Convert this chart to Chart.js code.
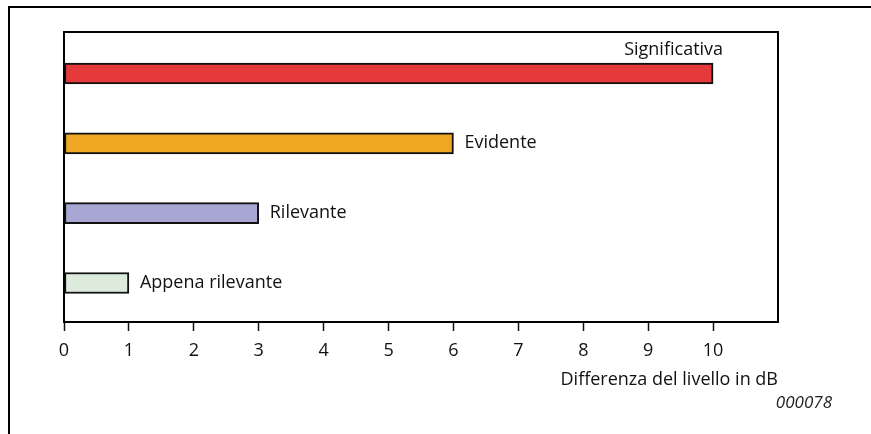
<!DOCTYPE html>
<html>
<head>
<meta charset="utf-8">
<script src="https://cdn.jsdelivr.net/npm/chart.js@4.4.1/dist/chart.umd.min.js"></script>
<style>
    html, body { margin: 0; padding: 0; background: #fff; }
    #wrap { position: relative; width: 871px; height: 434px; overflow: hidden; }
    #frame { position: absolute; left: 8px; top: 6px; width: 900px; height: 500px; border-top: 2px solid #000; border-left: 2px solid #000; }
    #chartBox { position: absolute; left: 0; top: 0; width: 871px; height: 434px; }
    #code { position: absolute; right: 39px; top: 390px; font: italic 17px 'Open Sans', sans-serif; color: #222; }
</style>
</head>
<body>
<div id="wrap">
    <div id="frame"></div>
    <div id="chartBox"><canvas id="levelChart"></canvas></div>
    <div id="code">000078</div>
</div>
<script>
// categories top to bottom
const categories = ['Significativa', 'Evidente', 'Rilevante', 'Appena rilevante'];
const levelValues = [10, 6, 3, 1];
const barColors = ['#e53a3c', '#f0a623', '#a8a7d3', '#dcebdc'];
const xTicks = [0, 1, 2, 3, 4, 5, 6, 7, 8, 9, 10];
const axisTitle = 'Differenza del livello in dB';

const FONT = "'Open Sans', sans-serif";

// box round the plot + labels next to the bars
const boxAndLabels = {
    id: 'boxAndLabels',
    afterDatasetsDraw(chart) {
        const { ctx, chartArea } = chart;
        ctx.save();
        ctx.strokeStyle = '#000';
        ctx.lineWidth = 2;
        ctx.strokeRect(chartArea.left, chartArea.top, chartArea.right - chartArea.left, chartArea.bottom - chartArea.top);

        ctx.font = '18px ' + FONT;
        ctx.fillStyle = '#111';
        ctx.textBaseline = 'middle';
        chart.getDatasetMeta(0).data.forEach((bar, i) => {
            const text = categories[i];
            const w = ctx.measureText(text).width;
            if (bar.x + 12 + w > chartArea.right) {
                // no room on the right: put it above the bar end
                ctx.textAlign = 'right';
                ctx.fillText(text, bar.x + 10, bar.y - 24);
            } else {
                ctx.textAlign = 'left';
                ctx.fillText(text, bar.x + 11, bar.y);
            }
        });
        ctx.restore();
    }
};

new Chart(document.getElementById('levelChart'), {
    type: 'bar',
    data: {
        datasets: [{
            data: levelValues.map((v, i) => ({ x: v, y: i })),
            backgroundColor: barColors,
            borderColor: '#111',
            borderWidth: 2,
            borderSkipped: false,
            barThickness: 21
        }]
    },
    options: {
        indexAxis: 'y',
        responsive: true,
        maintainAspectRatio: false,
        animation: false,
        layout: { padding: { left: 64, top: 32, right: 93, bottom: 0 } },
        plugins: { legend: { display: false }, tooltip: { enabled: false } },
        scales: {
            x: {
                type: 'linear',
                min: 0,
                max: 11,
                afterBuildTicks: s => { s.ticks = xTicks.map(v => ({ value: v })); },
                afterFit: s => { s.height = 112; },
                ticks: { color: '#111', font: { family: FONT, size: 18 }, padding: 9, maxRotation: 0 },
                grid: { drawOnChartArea: false, drawTicks: true, tickLength: 9, tickColor: '#111', tickWidth: 1.5 },
                border: { display: false },
                title: { display: true, text: axisTitle, align: 'end', color: '#111', font: { family: FONT, size: 18 }, padding: { top: 0, bottom: 43 } }
            },
            y: {
                type: 'linear',
                display: false,
                offset: false,
                reverse: true,
                min: -0.594,
                max: 3.558
            }
        }
    },
    plugins: [boxAndLabels]
});
</script>
</body>
</html>
